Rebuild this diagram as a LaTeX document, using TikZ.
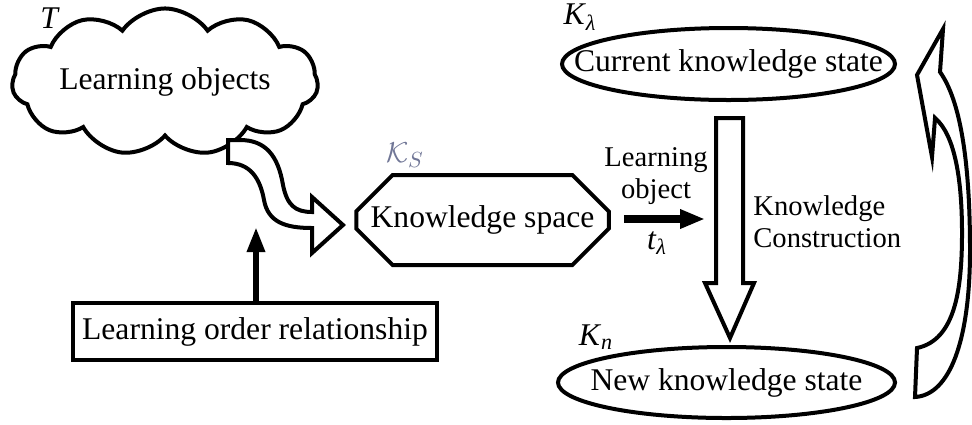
\documentclass[tikz,border=0pt]{standalone}
\usepackage{fontspec}
\setmainfont{Liberation Serif}
\usepackage{tikz}
\usetikzlibrary{calc,arrows.meta,positioning,shapes.symbols,shapes.misc,shapes.geometric}
\definecolor{ksgray}{RGB}{112,118,150}
\newcommand{\diagbig}{\fontsize{15.8}{18}\selectfont}
\newcommand{\diagsmall}{\fontsize{14.3}{16}\selectfont}

\tikzset{
  thickline/.style={draw=black, line width=2pt},
  cloudbox/.style={thickline, cloud, cloud puffs=11, cloud puff arc=110, aspect=2.78,
    minimum width=153pt, minimum height=55pt, inner sep=0pt, font=\diagbig},
  spacebox/.style={thickline, chamfered rectangle, chamfered rectangle xsep=11pt,
    chamfered rectangle ysep=11pt, minimum width=124.5pt, minimum height=45pt,
    inner sep=0pt, font=\diagbig},
  orderbox/.style={thickline, rectangle, minimum width=182pt, minimum height=28.5pt,
    inner sep=0pt, font=\diagbig},
  stateellipse/.style={thickline, ellipse, inner sep=0pt, font=\diagbig},
  statelabel/.style={inner sep=0pt, font=\diagbig},
  smalltext/.style={inner sep=0pt, font=\diagsmall},
  blockarrow/.style={thickline, fill=white, line join=miter},
  solidarrow/.style={line width=3pt, -{Triangle[length=12.5pt,width=8.5pt]}},
}

\begin{document}
\begin{tikzpicture}[x=0.5pt,y=-0.5pt]
\useasboundingbox (0,0) rectangle (972,424);

% left: learning objects and their order
\node[cloudbox] (objects) at (165,82) {Learning objects};
\node[statelabel] (tlabel) at (50,18) {\textit{T}};
\node[orderbox] (order) at (255,331.5) {Learning order relationship};
\coordinate (into) at (256,227);
\draw[solidarrow] (order.north -| into) -- (into);

% curved block arrow into the space
\draw[blockarrow] (228,140) -- (228,163)
  .. controls (250,163) and (260,178) .. (264,200)
  .. controls (268,222) and (285,228) .. (312,228)
  -- (312,253) -- (343,225) -- (312,197) -- (312,212)
  .. controls (295,212) and (287,205) .. (283,185)
  .. controls (278,155) and (265,140) .. (240,140) -- cycle;

% middle: knowledge space
\node[spacebox] (space) at (482.5,220) {Knowledge space};
\node[statelabel, text=ksgray] (kslabel) at (405,155) {$\mathcal{K}_S$};
\coordinate (lotip) at (705,219);
\draw[line width=4pt, -{Triangle[length=12.5pt,width=9pt]}, shorten <=6.5pt]
  (space.east |- lotip) -- (lotip);
\node[smalltext, align=center] (lobj) at (656,176) {Learning\\object};
\node[statelabel] (tlambda) at (657,243) {\textit{t}\textsubscript{\textit{λ}}};

% right: states and construction
\node[stateellipse, minimum width=166.5pt, minimum height=36pt] (current) at (728.5,64)
  {\makebox[0pt]{Current knowledge state}};
\node[statelabel] (klambda) at (580,17) {\textit{K}\textsubscript{\textit{λ}}};
\node[stateellipse, minimum width=168.5pt, minimum height=35.5pt] (new) at (726.5,382.5)
  {\makebox[0pt]{New knowledge state}};
\node[statelabel] (knew) at (596,337) {\textit{K}\textsubscript{\textit{n}}};

\draw[blockarrow] (716,118) -- (743,118) -- (743,283) -- (754,283)
  -- (730,338) -- (705,283) -- (716,283) -- cycle;
\node[smalltext, anchor=west, align=left] (construct) at (753,222) {Knowledge\\Construction};

% loop back arrow
\draw[blockarrow] (943,29) -- (917,75) -- (932,157) -- (935,118)
  .. controls (955,135) and (962,180) .. (962,233)
  .. controls (962,290) and (955,340) .. (917,348)
  -- (915,397)
  .. controls (950,395) and (970,340) .. (970,250)
  .. controls (970,160) and (960,100) .. (940,72) -- cycle;

\end{tikzpicture}
\end{document}
